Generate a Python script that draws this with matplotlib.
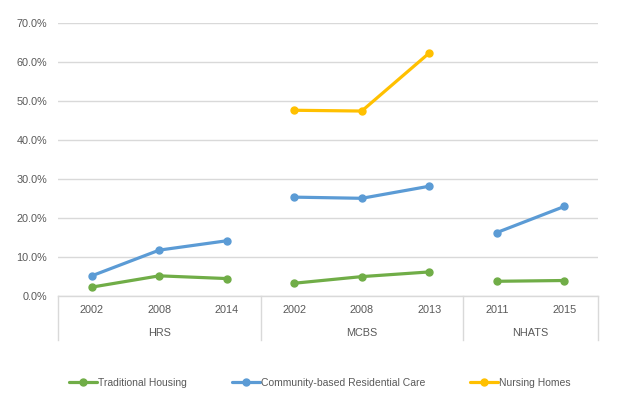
import matplotlib
matplotlib.use("Agg")
import matplotlib.pyplot as plt
import numpy as np

groups = ["HRS", "MCBS", "NHATS"]
years = [["2002", "2008", "2014"], ["2002", "2008", "2013"], ["2011", "2015"]]
traditional = [[2.2, 5.1, 4.4], [3.2, 4.9, 6.1], [3.7, 3.9]]
community = [[5.1, 11.7, 14.1], [25.3, 25.0, 28.1], [16.2, 22.9]]
nursing = [None, [47.6, 47.4, 62.3], None]
series_names = ["Traditional Housing", "Community-based Residential Care", "Nursing Homes"]
colors = ["#70AD47", "#5B9BD5", "#FFC000"]
yticks = [0, 10, 20, 30, 40, 50, 60, 70]

plt.rcParams['font.family'] = ['Liberation Sans', 'DejaVu Sans']
fig = plt.figure(figsize=(6.18, 4.08), dpi=100)
ax = fig.add_axes([58/618, 1-295.7/408, 540/618, (295.7-23)/408])

tick_color = "#595959"
grid_color = "#D9D9D9"
fs = 7.8

labels = [y for g in years for y in g]
n = len(labels)
ax.set_xlim(-0.5, n-0.5)
ax.set_ylim(0, 70)
ax.set_yticks(yticks)
ax.set_yticklabels([f"{v:.1f}%" for v in yticks], color=tick_color, fontsize=fs)
ax.set_xticks(range(n))
ax.set_xticklabels(labels, color=tick_color, fontsize=fs)
ax.tick_params(axis='both', length=0, pad=7)
ax.tick_params(axis='y', pad=8)
for s in ["top", "right", "left"]:
    ax.spines[s].set_visible(False)
ax.spines["bottom"].set_color(grid_color)
ax.spines["bottom"].set_linewidth(1)
ax.yaxis.grid(True, color=grid_color, linewidth=1)
ax.set_axisbelow(True)

handles = []
for si, data in enumerate([traditional, community, nursing]):
    start = 0
    h = None
    for gi, g in enumerate(years):
        xs = list(range(start, start+len(g)))
        if data[gi] is not None:
            h, = ax.plot(xs, data[gi], color=colors[si], lw=2.3, marker='o', ms=5,
                         solid_capstyle='round', zorder=3)
        start += len(g)
    handles.append(h)

# group separators and labels
trans = ax.get_xaxis_transform()
start = 0
bounds = [-0.5]
for gi, g in enumerate(years):
    end = start + len(g)
    bounds.append(end - 0.5)
    ax.text((start + end - 1)/2, -37.5/272.7, groups[gi], transform=trans,
            ha='center', va='center', color=tick_color, fontsize=fs)
    start = end
for b in bounds:
    ax.plot([b, b], [0, -44.5/272.7], transform=trans, color=grid_color, lw=1,
            clip_on=False)

leg = fig.legend(handles, series_names, loc='center', bbox_to_anchor=(0.518, 1-383/408),
                 ncol=3, frameon=False, fontsize=7.5, handlelength=2.7,
                 columnspacing=4.3, handletextpad=0.1)
for t in leg.get_texts():
    t.set_color(tick_color)

fig.savefig("out.png", dpi=100)
